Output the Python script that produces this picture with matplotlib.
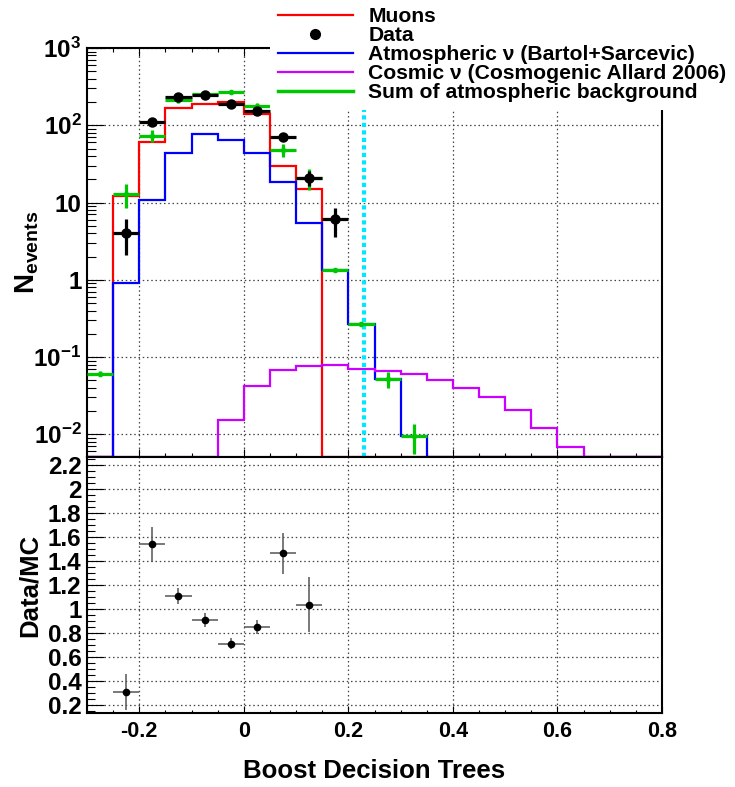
import numpy as np
import matplotlib
matplotlib.use('Agg')
import matplotlib.pyplot as plt
from matplotlib.lines import Line2D
from matplotlib.ticker import MultipleLocator, LogLocator, NullFormatter

plt.rcParams['font.family'] = ['Liberation Sans', 'DejaVu Sans']
plt.rcParams['font.weight'] = 'bold'
plt.rcParams['mathtext.fontset'] = 'custom'
plt.rcParams['mathtext.rm'] = 'Liberation Sans:bold'
plt.rcParams['mathtext.it'] = 'Liberation Sans:bold'
plt.rcParams['mathtext.bf'] = 'Liberation Sans:bold'
plt.rcParams['mathtext.default'] = 'rm'

# binning of the BDT output (22 bins of 0.05)
bin_edges = np.linspace(-0.3, 0.8, 23)
half_bin = 0.025

# MC histograms (events per bin)
muons = [0, 12.0, 61.6, 168, 189, 201, 138, 30, 15.1, 0, 0,
         0, 0, 0, 0, 0, 0, 0, 0, 0, 0, 0]
atm_nu = [0, 0.92, 10.9, 43.8, 76.7, 64, 43.8, 18.7, 5.4, 1.32, 0.27,
          0.052, 0.0096, 0, 0, 0, 0, 0, 0, 0, 0, 0]
cosmic_nu = [0, 0, 0, 0, 0, 0.0151, 0.0419, 0.068, 0.0759, 0.078, 0.069,
             0.066, 0.0598, 0.050, 0.0403, 0.030, 0.0206, 0.012, 0.0069, 0, 0, 0]

# sum of atmospheric background (with MC stat errors)
sum_x = [-0.275, -0.225, -0.175, -0.125, -0.075, -0.025, 0.025, 0.075,
         0.125, 0.175, 0.225, 0.275, 0.325]
sum_bkg = [0.061, 13.0, 73, 215, 257, 270, 180, 48, 21, 1.32, 0.27, 0.052, 0.0096]
sum_err = [0.004, 4.5, 13, 22, 22, 12, 17, 9, 6.5, 0.06, 0.015, 0.012, 0.004]

# data
data_x = [-0.225, -0.175, -0.125, -0.075, -0.025, 0.025, 0.075, 0.125, 0.175]
data = [4.07, 111, 233, 245, 191, 152, 70.7, 21, 6.05]
data_err = [2.0, 10.5, 15.3, 15.7, 13.8, 12.3, 8.4, 4.6, 2.45]

# ratio data / MC
ratio_x = [-0.225, -0.175, -0.125, -0.075, -0.025, 0.025, 0.075, 0.125]
ratio = [0.311, 1.539, 1.108, 0.908, 0.711, 0.85, 1.464, 1.036]
ratio_err = [0.15, 0.145, 0.07, 0.06, 0.045, 0.055, 0.17, 0.23]

cut_value = 0.23

xticks = [-0.2, 0, 0.2, 0.4, 0.6, 0.8]
xtick_labels = ['-0.2', '0', '0.2', '0.4', '0.6', '0.8']
yticks_up = [1e-2, 1e-1, 1, 10, 1e2, 1e3]
ytick_labels_up = ['$10^{-2}$', '$10^{-1}$', '1', '10', '$10^{2}$', '$10^{3}$']
yticks_low = [0.2, 0.4, 0.6, 0.8, 1.0, 1.2, 1.4, 1.6, 1.8, 2.0, 2.2]
ytick_labels_low = ['0.2', '0.4', '0.6', '0.8', '1', '1.2', '1.4', '1.6', '1.8', '2', '2.2']

green = '#00c800'
ylo = 10 ** -2.294

fig = plt.figure(figsize=(7.35, 7.87), dpi=100)
ax1 = fig.add_axes([0.1184, 0.4193, 0.7823, 0.5197])
ax2 = fig.add_axes([0.1184, 0.094, 0.7823, 0.3253])

grid_style = dict(ls=(0, (1.2, 2.2)), color='#444444', lw=0.9)

# --- upper panel ---
for vals, col in [(muons, 'red'), (atm_nu, 'blue'), (cosmic_nu, '#cc00ff')]:
    ax1.stairs(np.maximum(vals, ylo), bin_edges, color=col, lw=1.6, zorder=2)

ax1.errorbar(sum_x, sum_bkg, xerr=half_bin, yerr=sum_err, fmt='o', ms=3,
             color=green, elinewidth=2.3, capsize=0, zorder=3)
ax1.errorbar(data_x, data, xerr=half_bin, yerr=data_err, fmt='o', ms=6.5,
             color='black', elinewidth=2.3, capsize=0, zorder=4)
ax1.axvline(cut_value, color='#00e8ff', lw=3, ls=(0, (1, 0.8)), zorder=2)

ax1.set_yscale('log')
ax1.set_xlim(-0.3, 0.8)
ax1.set_ylim(ylo, 1e3)
ax1.set_xticks(xticks)
ax1.xaxis.set_minor_locator(MultipleLocator(0.05))
ax1.set_yticks(yticks_up)
ax1.set_yticklabels(ytick_labels_up)
ax1.yaxis.set_minor_locator(LogLocator(base=10, subs=np.arange(2, 10)))
ax1.yaxis.set_minor_formatter(NullFormatter())
ax1.tick_params(axis='x', which='both', direction='in', top=True, bottom=True,
                labelbottom=False, width=0.8)
ax1.tick_params(axis='x', which='major', length=5.5)
ax1.tick_params(axis='x', which='minor', length=3)
ax1.tick_params(axis='y', which='both', direction='in', left=True, right=False,
                width=0.8, labelsize=17.5, pad=4)
ax1.tick_params(axis='y', which='major', length=12.5)
ax1.tick_params(axis='y', which='minor', length=6.5)
ax1.grid(True, which='major', **grid_style)
ax1.set_ylabel('$N_{events}$', fontsize=20)
ax1.yaxis.set_label_coords(-0.08, 0.5)

# --- lower panel ---
ax2.errorbar(ratio_x, ratio, xerr=half_bin, yerr=ratio_err, fmt='o', ms=4.5,
             color='black', ecolor='#555555', elinewidth=1.1, capsize=0, zorder=3)
ax2.set_xlim(-0.3, 0.8)
ax2.set_ylim(0.133, 2.267)
ax2.set_xticks(xticks)
ax2.set_xticklabels(xtick_labels)
ax2.xaxis.set_minor_locator(MultipleLocator(0.05))
ax2.set_yticks(yticks_low)
ax2.set_yticklabels(ytick_labels_low)
ax2.yaxis.set_minor_locator(MultipleLocator(0.05))
ax2.tick_params(axis='x', which='both', direction='in', top=False, bottom=True,
                width=0.8, labelsize=15.5, pad=6)
ax2.tick_params(axis='x', which='major', length=5)
ax2.tick_params(axis='x', which='minor', length=2.5)
ax2.tick_params(axis='y', which='both', direction='in', left=True, right=False,
                width=0.8, labelsize=17.5, pad=4)
ax2.tick_params(axis='y', which='major', length=12.5)
ax2.tick_params(axis='y', which='minor', length=6)
ax2.grid(True, which='major', **grid_style)
ax2.set_ylabel('Data/MC', fontsize=18.5, fontweight='bold')
ax2.yaxis.set_label_coords(-0.078, 0.5)
ax2.set_xlabel('Boost Decision Trees', fontsize=18.5, fontweight='bold', va='top')
ax2.xaxis.set_label_coords(0.5, -0.18)

for ax in (ax1, ax2):
    for sp in ax.spines.values():
        sp.set_linewidth(1.5)

# --- legend ---
handles = [Line2D([], [], color='red', lw=1.6),
           Line2D([], [], color='black', marker='o', ls='none', ms=7),
           Line2D([], [], color='blue', lw=1.6),
           Line2D([], [], color='#cc00ff', lw=1.6),
           Line2D([], [], color=green, lw=2.5)]
labels = ['Muons', 'Data', 'Atmospheric \u03bd (Bartol+Sarcevic)',
          'Cosmic \u03bd (Cosmogenic Allard 2006)', 'Sum of atmospheric background']
leg = fig.legend(handles, labels, loc='upper left', bbox_to_anchor=(0.368, 1.0),
                 bbox_transform=fig.transFigure, frameon=True, fancybox=False,
                 facecolor='white', edgecolor='none', framealpha=1,
                 prop={'family': 'Liberation Sans', 'weight': 'bold', 'size': 15.2},
                 handlelength=3.56, handletextpad=0.72, labelspacing=0.0,
                 borderpad=0.35, borderaxespad=0)

fig.savefig('out.png', dpi=100)
